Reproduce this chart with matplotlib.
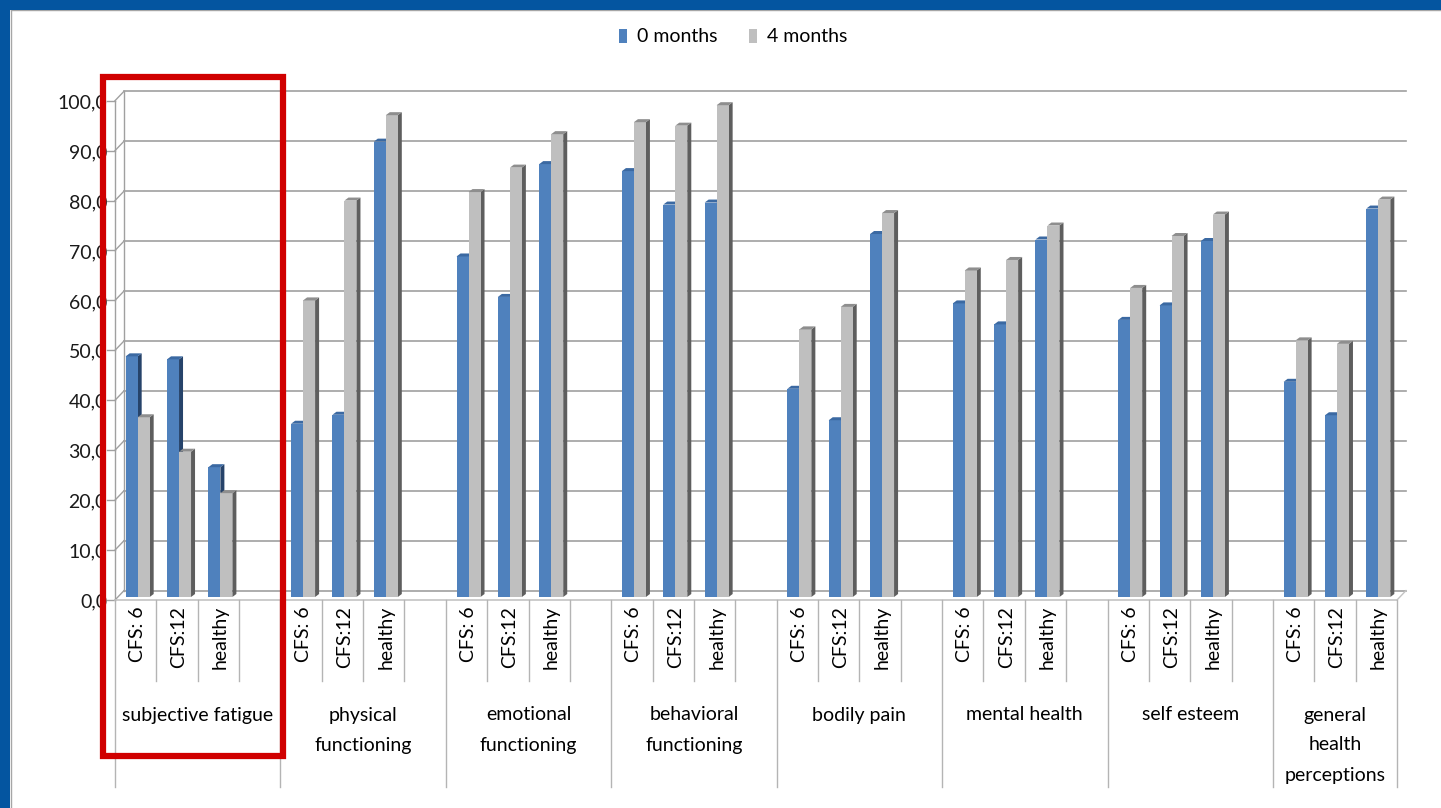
import numpy as np
import matplotlib.pyplot as plt
from matplotlib.patches import Rectangle
from matplotlib.lines import Line2D

plt.rcParams['font.family'] = ['Lato', 'DejaVu Sans']

groups = ['subjective fatigue', 'physical\nfunctioning', 'emotional\nfunctioning',
          'behavioral\nfunctioning', 'bodily pain', 'mental health', 'self esteem',
          'general\nhealth\nperceptions']
subgroups = ['CFS: 6', 'CFS:12', 'healthy']
months0 = [48.2, 47.6, 26.0, 34.7, 36.5, 91.2, 68.2, 60.1, 86.7, 85.3, 78.6, 79.0,
           41.7, 35.4, 72.7, 58.8, 54.6, 71.6, 55.5, 58.4, 71.3, 43.1, 36.4, 77.8]
months4 = [36.0, 29.1, 20.8, 59.4, 79.4, 96.5, 81.1, 86.0, 92.7, 95.1, 94.4, 98.5,
           53.6, 58.1, 76.9, 65.4, 67.5, 74.4, 61.9, 72.3, 76.6, 51.4, 50.7, 79.6]
yticks = np.arange(0, 101, 10)

W, H = 1441, 808
fig = plt.figure(figsize=(W / 100, H / 100), dpi=100)

# plot area in pixels: front edge of the floor / wall
x0px, x1px = 115, 1397
y0px, y100px = 600, 100.7
nslots = 4 * len(groups) - 1
ax = fig.add_axes([x0px / W, 1 - y0px / H, (x1px - x0px) / W, (y0px - y100px) / H])
ax.set_xlim(-0.5, nslots - 0.5)
ax.set_ylim(0, 100)
ax.axis('off')

spx = (x1px - x0px) / nslots          # pixels per slot
upx = (y0px - y100px) / 100           # pixels per unit
def dx(p): return p / spx
def dy(p): return p / upx

# depth of the wall and of the bars
DX, DY = dx(9), dy(9.4)
BDX, BDY = dx(4), dy(3)
shift, base = dx(2), dy(3)
bw = dx(12)

grid_c = '#a0a0a0'
left, right = -0.5, nslots - 0.5
for v in yticks:
    ax.plot([left + DX, right + DX], [v + DY, v + DY], color=grid_c, lw=1.2, clip_on=False, zorder=1)
    ax.plot([left, left + DX], [v, v + DY], color=grid_c, lw=1.0, clip_on=False, zorder=1)
    ax.plot([left - dx(8), left], [v, v], color=grid_c, lw=1.0, clip_on=False, zorder=1)
    ax.text(left - dx(8), v - dy(2), f'{v:.1f}'.replace('.', ','), ha='right', va='center',
            fontsize=14, color='#1a1a1a')
ax.plot([left, left], [0, 100], color=grid_c, lw=1.0, clip_on=False, zorder=1)
ax.plot([left + DX, left + DX], [DY, 100 + DY], color=grid_c, lw=1.0, clip_on=False, zorder=1)
ax.plot([left, right], [0, 0], color='#c4c4c4', lw=1.2, clip_on=False, zorder=1)
ax.plot([right, right + DX], [0, DY], color='#c4c4c4', lw=1.0, clip_on=False, zorder=1)

xs = np.array([4 * g + s for g in range(len(groups)) for s in range(len(subgroups))])

def bar3d(xl, vals, front, side, top, label):
    bars = ax.bar(xl, vals, width=bw, bottom=base, align='edge', color=front,
                  label=label, zorder=3, clip_on=False)
    for x, v in zip(xl, vals):
        h = base + v
        ax.fill([x + bw, x + bw + BDX, x + bw + BDX, x + bw],
                [base, base + BDY, h + BDY, h], color=side, lw=0, zorder=2, clip_on=False)
        ax.fill([x, x + bw, x + bw + BDX, x + BDX],
                [h, h, h + BDY, h + BDY], color=top, lw=0, zorder=3, clip_on=False)
    return bars

b0 = bar3d(xs + shift - bw, months0, '#4f81bd', '#26436a', '#3b69a2', '0 months')
b4 = bar3d(xs + shift, months4, '#bfbfbf', '#5e5e5e', '#8e8e8e', '4 months')

# category axis below the floor
sep_c = '#b4b4b4'
for k in range(nslots + 1):
    xb = k - 0.5
    long_sep = (k % 4 == 0) or k == nslots
    ax.plot([xb, xb], [0, dy(-187) if long_sep else dy(-81)], color=sep_c, lw=1.0,
            clip_on=False, zorder=1)
for x, s in zip(xs, [s for _ in groups for s in subgroups]):
    ax.text(x + dx(2), dy(-6), s, rotation=90, ha='center', va='top', fontsize=14)
for g, name in enumerate(groups):
    lo = 4 * g - 0.5
    hi = min(4 * g + 3.5, right)
    for i, line in enumerate(name.split('\n')):
        ax.text((lo + hi) / 2, dy(-115 - 30 * i), line, ha='center', va='center', fontsize=14)

fig.legend(handles=[b0, b4], loc='center', bbox_to_anchor=(733 / W, 1 - 37 / H), ncol=2,
           frameon=False, fontsize=14, handlelength=0.45, handleheight=0.7,
           handletextpad=0.5, columnspacing=1.6)

# slide frame
blue = '#0455a0'
fig.add_artist(Rectangle((0, 1 - 9.5 / H), 1, 9.5 / H, transform=fig.transFigure,
                         color=blue, lw=0, zorder=10))
fig.add_artist(Rectangle((0, 0), 10 / W, 1, transform=fig.transFigure,
                         color=blue, lw=0, zorder=10))
fig.add_artist(Line2D([10.5 / W, 1], [1 - 10 / H] * 2, transform=fig.transFigure,
                      color='#a6a6a6', lw=1.0, zorder=9))
fig.add_artist(Line2D([10.5 / W] * 2, [0, 1 - 10 / H], transform=fig.transFigure,
                      color='#a6a6a6', lw=1.0, zorder=9))

# highlight box round the first group
fig.add_artist(Rectangle((102.7 / W, 1 - 756 / H), (283.3 - 102.7) / W, (756 - 76.7) / H,
                         transform=fig.transFigure, fill=False, edgecolor='#d00000',
                         lw=4.5, zorder=11))

fig.savefig('out.png', dpi=100, facecolor='white')
